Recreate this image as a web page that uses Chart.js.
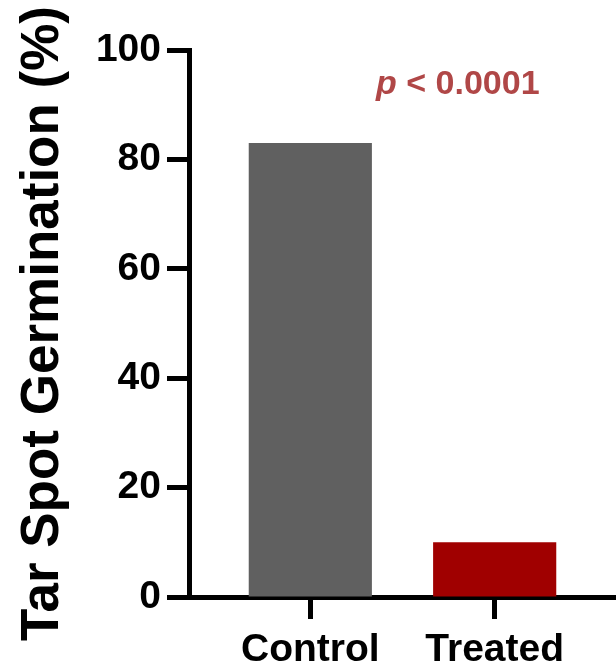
<!DOCTYPE html>
<html>
<head>
<meta charset="utf-8">
<script src="https://cdn.jsdelivr.net/npm/chart.js@4"></script>
<style>
  html, body { margin: 0; padding: 0; background: #fff; }
  #wrap { width: 616px; height: 668px; }
</style>
</head>
<body>
<div id="wrap"><canvas id="myChart" width="616" height="668"></canvas></div>
<script>
// data
const groups = ['Control', 'Treated'];
const germination = [83, 10];
const barColors = ['#606060', '#a00000'];
const yTicks = [0, 20, 40, 60, 80, 100];
const pLabel = 'p < 0.0001';

const FONT = 'Liberation Sans, Arial, sans-serif';

// draw the p value text above the bars
const pValuePlugin = {
    id: 'pValue',
    afterDraw(chart) {
        const ctx = chart.ctx;
        const x = chart.scales.x.getPixelForValue(1.8);
        const y = chart.scales.y.getPixelForValue(93.6);
        ctx.save();
        ctx.fillStyle = '#b04747';
        ctx.textBaseline = 'middle';
        ctx.font = 'italic bold 34px ' + FONT;
        const pW = ctx.measureText('p').width;
        ctx.font = 'bold 34px ' + FONT;
        const rest = pLabel.slice(1);
        const restW = ctx.measureText(rest).width;
        const left = x - (pW + restW) / 2;
        ctx.textAlign = 'left';
        ctx.font = 'italic bold 34px ' + FONT;
        ctx.fillText('p', left, y);
        ctx.font = 'bold 34px ' + FONT;
        ctx.fillText(rest, left + pW, y);
        ctx.restore();
    }
};

const ctx = document.getElementById('myChart').getContext('2d');
const chart = new Chart(ctx, {
    type: 'bar',
    data: {
        datasets: [{
            data: germination.map((v, i) => ({ x: i + 1, y: v })),
            backgroundColor: barColors,
            borderWidth: 0,
            barPercentage: 0.668,
            categoryPercentage: 1,
        }],
    },
    options: {
        responsive: false,
        animation: false,
        events: [],
        layout: { padding: { top: 50, right: 0, left: 0, bottom: 0 } },
        plugins: {
            legend: { display: false },
            tooltip: { enabled: false },
        },
        scales: {
            x: {
                type: 'linear',
                min: 0.342,
                max: 2.658,
                offset: false,
                afterBuildTicks: (scale) => {
                    scale.ticks = groups.map((g, i) => ({ value: i + 1 }));
                },
                afterFit: (scale) => { scale.height = 71; },
                border: { display: true, color: '#000', width: 5 },
                grid: {
                    offset: false,
                    drawOnChartArea: false,
                    drawTicks: true,
                    tickLength: 22,
                    tickWidth: 5,
                    tickColor: '#000',
                },
                ticks: {
                    color: '#000',
                    padding: 8,
                    maxRotation: 0,
                    autoSkip: false,
                    font: { family: FONT, size: 39, weight: 'bold' },
                    callback: (v) => groups[v - 1] || '',
                },
            },
            y: {
                min: 0,
                max: 100,
                afterBuildTicks: (scale) => {
                    scale.ticks = yTicks.map(v => ({ value: v }));
                },
                afterFit: (scale) => { scale.width = 189; },
                border: { display: true, color: '#000', width: 5 },
                grid: {
                    drawOnChartArea: false,
                    drawTicks: true,
                    tickLength: 22,
                    tickWidth: 5,
                    tickColor: '#000',
                },
                ticks: {
                    color: '#000',
                    padding: 6,
                    font: { family: FONT, size: 39, weight: 'bold' },
                },
                title: {
                    display: true,
                    text: 'Tar Spot Germination (%)',
                    color: '#000',
                    padding: { top: 12, bottom: 0 },
                    font: { family: FONT, size: 53, weight: 'bold' },
                },
            },
        },
    },
    plugins: [pValuePlugin],
});
</script>
</body>
</html>
